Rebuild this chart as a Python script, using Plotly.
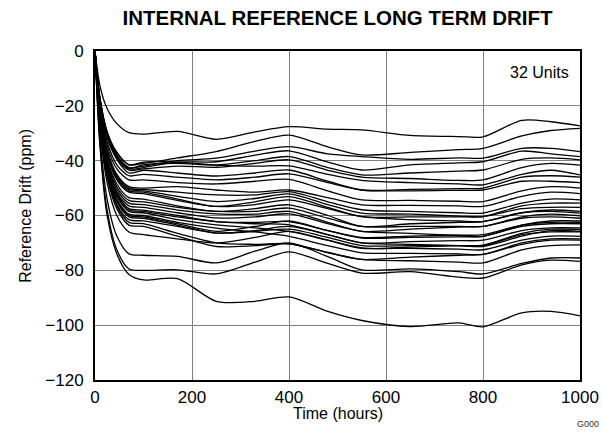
import plotly.graph_objects as go

hours = [0, 10, 25, 45, 70, 100, 170, 250, 330, 400, 480, 550, 650, 750, 800, 880, 940, 1000]

units = [
    [0, -12.5, -21, -26.5, -29.8, -30.3, -29.3, -32.2, -29.5, -27.6, -28.5, -28.8, -30.8, -31.2, -31.3, -25.3, -25.8, -27.3],
    [0, -17, -29.5, -37, -41.5, -41, -39, -36.7, -33, -30.7, -35, -37.9, -37, -36, -35.5, -31, -29, -28.2],
    [0, -17.5, -30, -38, -42.5, -42, -40, -39.1, -36.5, -34.9, -37.5, -38.5, -39.5, -39, -39.1, -35.5, -35.5, -36.7],
    [0, -17.5, -30.5, -38.5, -43, -42.5, -40.5, -40.4, -38, -36.4, -40.5, -43.4, -41.5, -40.8, -40.4, -36.5, -37.5, -38.5],
    [0, -17, -30, -38, -42.8, -41.5, -41, -41.6, -40, -38.5, -42.5, -45.2, -44.5, -43.8, -43.4, -39.5, -39, -39.7],
    [0, -18, -31, -39, -43.5, -43, -42, -42.4, -41, -39.7, -43.5, -46, -46.5, -47.2, -47, -42.5, -41, -41.6],
    [0, -17, -29.5, -37, -41.5, -40.5, -40.5, -41.6, -42, -41.9, -45, -47.2, -48, -48.5, -48.8, -45, -43.5, -45.2],
    [0, -18.5, -31.5, -39.5, -44.5, -43.5, -44.5, -45.6, -44.5, -43.4, -47.5, -50.7, -50.5, -50.2, -50, -46, -45.5, -46],
    [0, -19, -33, -41.5, -45.5, -45, -46, -47, -46, -44.8, -48, -50.7, -51, -50.8, -50.7, -47.5, -47.5, -48],
    [0, -20, -34.5, -43, -47, -47, -48, -48.5, -47.5, -46.8, -51, -54.3, -54.5, -54.8, -54.9, -51, -49.5, -50],
    [0, -21, -36, -45, -49.5, -50, -49.5, -50.7, -51.5, -50.7, -53.5, -56.1, -56.3, -56.5, -56.7, -53, -51.5, -52],
    [0, -21, -36.5, -45.5, -50, -50.5, -51.5, -52.5, -52.5, -51.3, -55, -57.9, -58.5, -59, -59.1, -55.5, -54, -54.3],
    [0, -21.5, -37, -46, -50.5, -51, -53, -54.9, -53.8, -52.1, -56, -59.1, -59.5, -60.2, -60.4, -56.5, -55.5, -55.5],
    [0, -21.5, -37, -46.5, -51, -51.5, -54, -56.7, -55, -53.1, -57, -60.4, -60.5, -60.5, -60.4, -57.5, -57, -57],
    [0, -22, -37.5, -47, -51.5, -52, -54.5, -56.7, -56, -54.3, -57.5, -60.4, -61.5, -62, -62.2, -59, -58, -58.5],
    [0, -22.5, -39, -48.5, -53.5, -54, -56.5, -58.5, -57.5, -56.1, -60, -64, -63, -62.5, -62.2, -59, -58.5, -59.1],
    [0, -23, -39.5, -49.5, -54.5, -55, -57, -58.5, -58.5, -57.3, -61, -64, -64, -64, -64, -60.5, -59.5, -60.1],
    [0, -23.5, -40.5, -50.5, -55.5, -56, -58, -59.4, -59.5, -58.5, -62.5, -65.8, -65, -64.2, -64, -61, -60.5, -61],
    [0, -24, -41, -51.5, -56.5, -57, -59, -60.9, -60.5, -59.4, -63, -65.8, -66.5, -67.3, -67.6, -63.5, -62, -62],
    [0, -24.5, -42, -52, -57.5, -58, -60, -62.2, -62.5, -62.2, -65.5, -68.2, -68, -67.8, -67.6, -64, -63, -63],
    [0, -24.5, -42, -52.5, -58, -58.5, -60.5, -62.2, -63, -63.4, -67, -70, -70.5, -71, -71.3, -67.5, -65.5, -65.8],
    [0, -25, -42.5, -53, -58.5, -59, -61.5, -63.4, -64.5, -65.8, -69, -71.8, -72, -72.3, -72.5, -69, -67.5, -67.6],
    [0, -25, -43, -54, -59.5, -60, -62.5, -64.6, -66, -67.6, -71, -73.6, -73.8, -74, -74.2, -70.5, -69, -69],
    [0, -25.5, -43.5, -54.5, -60, -60.5, -63, -65.8, -64, -62, -65.5, -68, -67.5, -67.2, -67, -63.5, -62.5, -62.5],
    [0, -25.5, -44, -55, -60.5, -61, -63.5, -66.4, -65.5, -64, -67, -70, -69.5, -69.2, -69, -65.5, -64.5, -64.5],
    [0, -26, -44.5, -56, -61.5, -62, -64, -66.4, -65.8, -65, -68, -71, -71, -71, -71, -67, -66, -66],
    [0, -26.5, -45.5, -56.5, -62.5, -63, -66.5, -70, -70.5, -70.3, -73.5, -76, -76.5, -77, -77.3, -72.5, -71, -70.7],
    [0, -27, -46, -57.5, -63.5, -64, -67.5, -71.3, -71, -70.3, -73.5, -76, -75.2, -74.5, -74.2, -70, -68.5, -68.5],
    [0, -28, -48, -60, -66, -67, -68.5, -70, -68, -65.8, -69, -72, -71.5, -71, -70.8, -66.5, -65, -65.1],
    [0, -31, -54, -67.5, -74, -74.5, -74.9, -77.3, -73, -70, -75, -79.8, -79.5, -80.5, -81.3, -77.5, -75.5, -75.5],
    [0, -33, -58, -72.5, -79.5, -80, -79.8, -81.3, -77, -73.3, -77.5, -81, -80.5, -82.5, -82.8, -78, -76.3, -76.7],
    [0, -34, -60, -74, -81.5, -83.5, -83, -91.3, -91.3, -89.7, -95, -98.3, -100.5, -99.2, -100.6, -95.5, -95, -96.6],
]

x_ticks = [0, 200, 400, 600, 800, 1000]
y_ticks = [0, -20, -40, -60, -80, -100, -120]

FONT = "Liberation Sans, Arial, Helvetica, sans-serif"

W, H = 603, 432

fig = go.Figure()
for i, vals in enumerate(units):
    fig.add_trace(go.Scatter(
        x=hours, y=vals, mode="lines",
        line=dict(color="black", width=1.3, shape="spline", smoothing=0.8),
        showlegend=False, hoverinfo="skip", name=f"Unit {i+1}",
    ))

axis_common = dict(
    showgrid=True, gridcolor="#7f7f7f", gridwidth=1,
    showline=True, linecolor="black", linewidth=2, mirror=True,
    zeroline=False, ticks="", tickfont=dict(family=FONT, size=17, color="black"),
    fixedrange=True, automargin=False,
)

fig.update_layout(
    template="none",
    width=W, height=H, autosize=False,
    margin=dict(l=95, r=23, t=51, b=52, pad=0),
    paper_bgcolor="white", plot_bgcolor="white",
    font=dict(family=FONT, color="black"),
    title=dict(text="<b>INTERNAL REFERENCE LONG TERM DRIFT</b>", x=0.5, xref="paper",
               y=1 - 18 / H, yanchor="middle", font=dict(family=FONT, size=20.5, color="black")),
    xaxis=dict(range=[0, 1000], tickvals=x_ticks, ticklabelstandoff=1, **axis_common),
    yaxis=dict(range=[-120, 0], tickvals=y_ticks, ticklabelstandoff=6, **axis_common),
    annotations=[
        dict(text="32 Units", xref="paper", yref="paper", x=0.981, y=0.936,
             xanchor="right", yanchor="middle", showarrow=False,
             font=dict(family=FONT, size=16, color="black")),
        dict(text="Time (hours)", xref="paper", yref="paper", x=0.5, y=-0.103,
             xanchor="center", yanchor="middle", showarrow=False,
             font=dict(family=FONT, size=16, color="black")),
        dict(text="Reference Drift (ppm)", xref="paper", yref="paper", x=-0.144, y=0.53,
             xanchor="center", yanchor="middle", textangle=-90, showarrow=False,
             font=dict(family=FONT, size=16, color="black")),
        dict(text="G000", xref="paper", yref="paper", x=1.043, y=-0.134,
             xanchor="right", yanchor="middle", showarrow=False,
             font=dict(family=FONT, size=9, color="#333333")),
    ],
)

fig.write_html(
    "out.html",
    config={"displayModeBar": False, "staticPlot": True},
    post_script="document.body.style.margin='0';document.body.style.overflow='hidden';",
)
